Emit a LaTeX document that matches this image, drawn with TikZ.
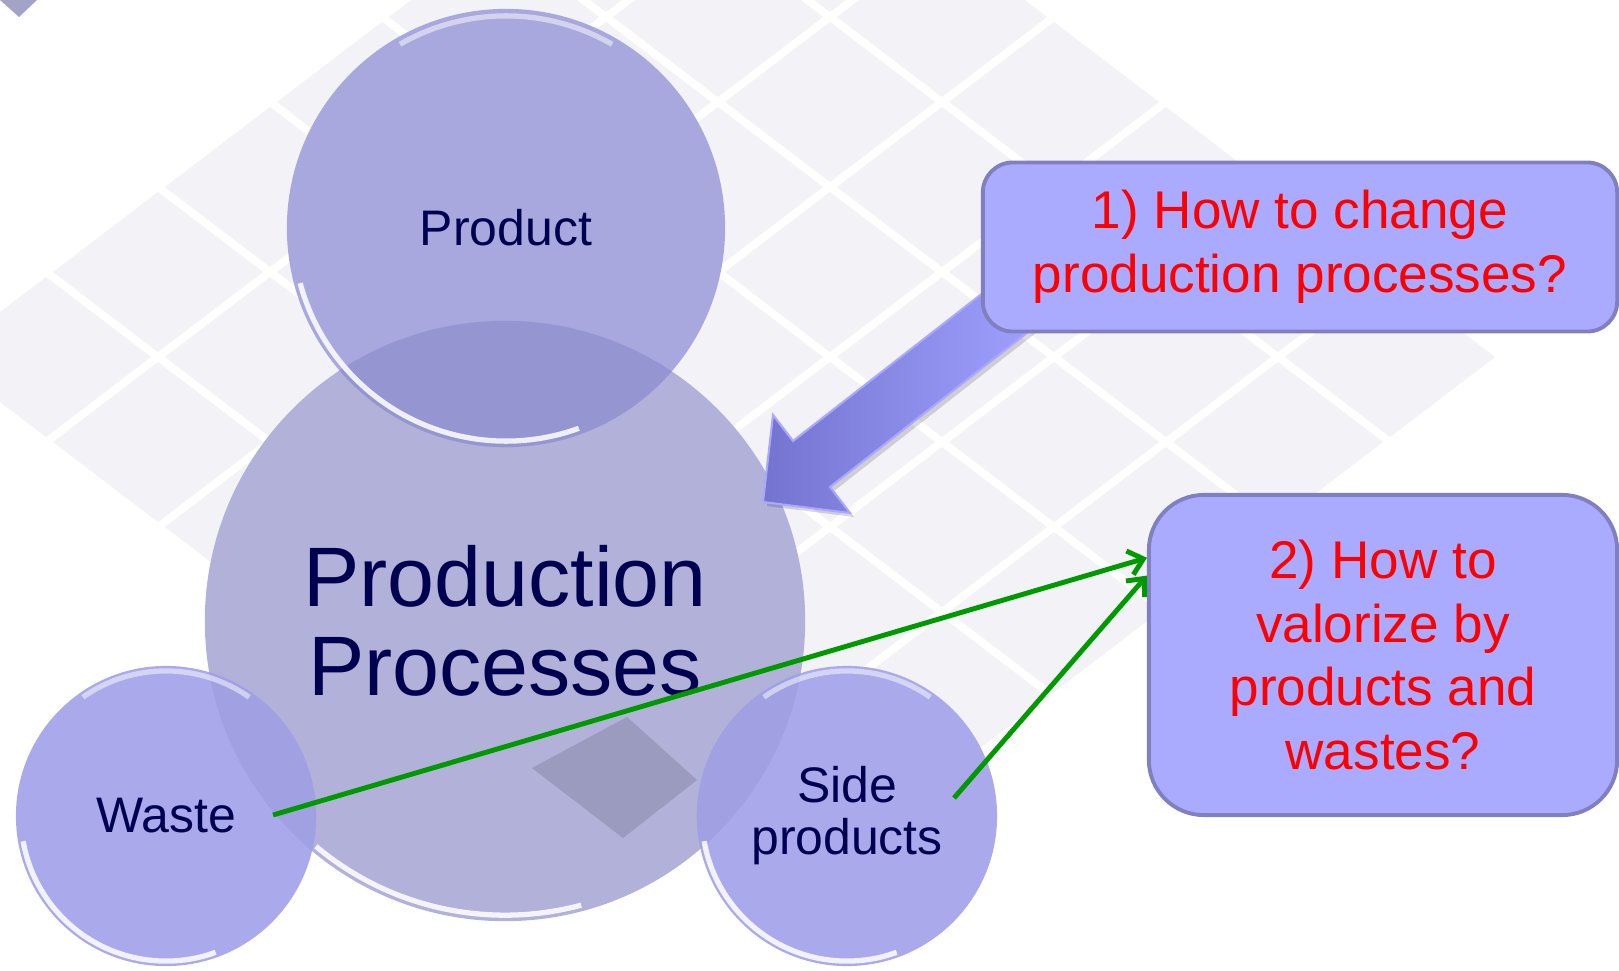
\documentclass[tikz,border=0pt]{standalone}
\usepackage{fontspec}
\setmainfont{Liberation Sans}
\usetikzlibrary{arrows.meta,calc}

\definecolor{tilegray}{HTML}{F2F2F7}
\definecolor{cornertile}{HTML}{A3A3C8}
\definecolor{darktile}{HTML}{9B9BBF}
\definecolor{ppfill}{HTML}{B1B1D9}
\definecolor{prodfill}{HTML}{A8A8DE}
\definecolor{prodover}{HTML}{9595D2}
\definecolor{smallfill}{HTML}{A9A9EC}
\definecolor{smallover}{HTML}{A0A0E2}
\definecolor{navytext}{HTML}{000050}
\definecolor{boxfill}{HTML}{AAAAFF}
\definecolor{boxedge}{HTML}{8080C0}
\definecolor{arrowlight}{HTML}{A0A0FF}
\definecolor{arrowdark}{HTML}{7474D0}
\definecolor{arrowedge}{HTML}{A8A8FF}
\definecolor{linkgreen}{HTML}{009A00}

\begin{document}
\begin{tikzpicture}[x=0.01cm,y=-0.01cm]
    \tikzstyle{bubble}=[circle,inner sep=0pt,align=center,text=navytext]
    \tikzstyle{smallbubble}=[bubble,minimum size=3cm,fill=smallfill,font=\fontsize{14.2}{14.8}\selectfont]
    \tikzstyle{question}=[draw=boxedge,line width=1.1pt,fill=boxfill,text=red,align=center,inner sep=0pt,font=\fontsize{15.1}{18.1}\selectfont]
    \tikzstyle{rim}=[white,line width=1.5pt,opacity=0.85]
    \tikzstyle{link}=[draw=linkgreen,line width=1.4pt,-{Straight Barb[length=4pt,width=7pt]}]

    \useasboundingbox (0,0) rectangle (1619,970);
    \fill[white] (0,0) rectangle (1619,970);

    % background tiles
    \foreach \p in {-5,...,1}
        \foreach \q in {-5,...,1} {
            \pgfmathtruncatemacro{\ty}{357+85*(\p-\q)}
            \ifnum\ty<800
                \fill[tilegray] ({1166+112*(\p+\q)},\ty) +(-105,0) -- +(0,-80) -- +(105,0) -- +(0,80) -- cycle;
            \fi
        }
    \fill[cornertile] (0,0) -- (37,0) -- (19,17) -- cycle;

    % circles
    \node[bubble,minimum size=6cm,fill=ppfill,font=\fontsize{24}{25.3}\selectfont] at (505,621) (pp) {Production\\Processes};
    \draw[rim] ($(pp.center)+(230:2.94cm)$) arc[start angle=230,end angle=285,radius=2.94cm];
    \fill[darktile] (627,717) -- (697,780) -- (623,838) -- (532,768) -- cycle;
    \node[bubble,minimum size=4.38cm,fill=prodfill,font=\fontsize{14.2}{14.8}\selectfont] at (506,228) (prod) {Product};
    \node[smallbubble] at (166,816) (waste) {Waste};
    \node[smallbubble] at (847,816) (side) {Side\\products};

    \begin{scope}
        \clip (pp.center) circle[radius=3cm];
        \fill[prodover] (prod.center) circle[radius=2.19cm];
        \fill[smallover] (waste.center) circle[radius=1.5cm];
        \fill[smallover] (side.center) circle[radius=1.5cm];
    \end{scope}

    \draw[rim] ($(prod.center)+(195:2.13cm)$) arc[start angle=195,end angle=290,radius=2.13cm];
    \draw[rim,opacity=0.5] ($(prod.center)+(60:2.12cm)$) arc[start angle=60,end angle=120,radius=2.12cm];
    \draw[rim] ($(waste.center)+(190:1.45cm)$) arc[start angle=190,end angle=290,radius=1.45cm];
    \draw[rim,opacity=0.5] ($(waste.center)+(55:1.45cm)$) arc[start angle=55,end angle=125,radius=1.45cm];
    \draw[rim] ($(side.center)+(190:1.45cm)$) arc[start angle=190,end angle=290,radius=1.45cm];
    \draw[rim,opacity=0.5] ($(side.center)+(55:1.45cm)$) arc[start angle=55,end angle=125,radius=1.45cm];

    % big arrow into the process
    \fill[black,opacity=0.15] (1010,279) -- (797,445) -- (777,419) -- (767,506) -- (854,517) -- (834,491) -- (1046,325) -- cycle;
    \shade[left color=arrowdark,right color=arrowlight,draw=arrowedge,line width=0.6pt]
        (1006,275) -- (793,441) -- (773,415) -- (763,502) -- (850,513) -- (830,487) -- (1042,321) -- cycle;

    % questions
    \node[question,rounded corners=0.3cm,minimum width=6.34cm,minimum height=1.69cm] at (1300,247) (q1) {1) How to change\\production processes?};
    \node[question,rounded corners=0.55cm,minimum width=4.68cm,minimum height=3.2cm] at (1383,655) (q2) {2) How to\\valorize by\\products and\\wastes?};

    \draw[link] ($(waste.center)+(107,-1)$) -- ($(q2.north west)!0.2!(q2.south west)$);
    \draw[link] ($(side.center)+(107,-18)$) -- ($(q2.north west)!0.255!(q2.south west)$);
\end{tikzpicture}
\end{document}
